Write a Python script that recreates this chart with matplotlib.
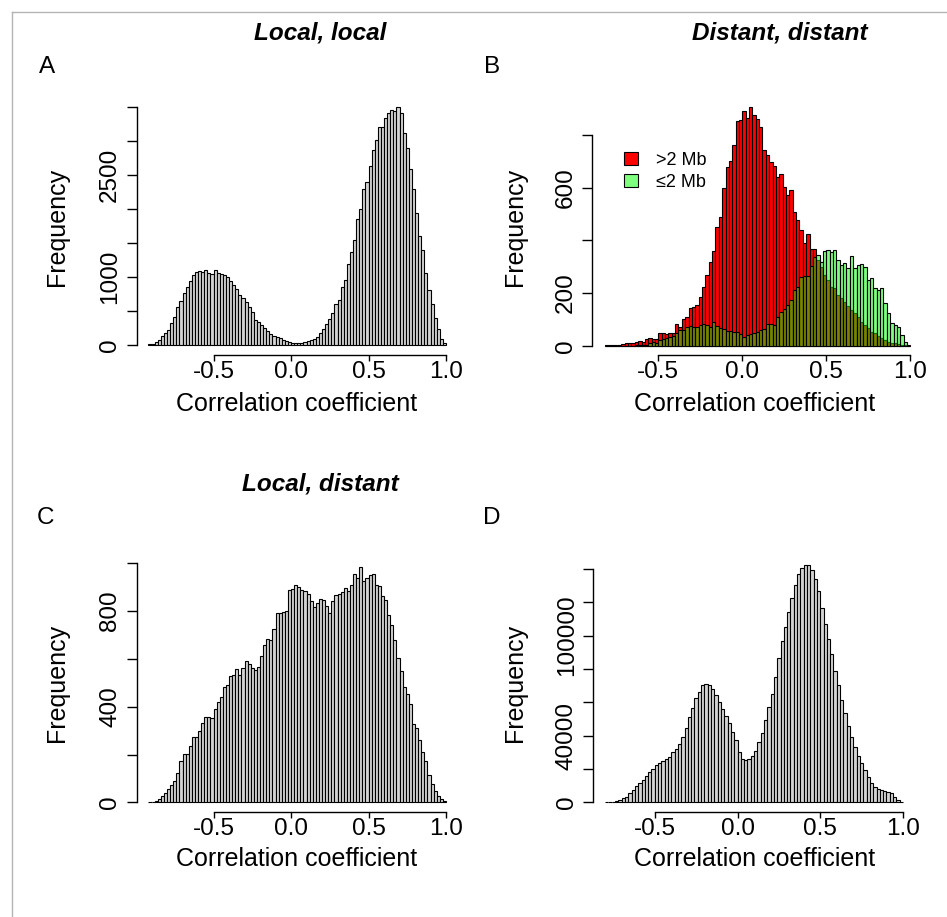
import numpy as np
import matplotlib
matplotlib.use("Agg")
import matplotlib.pyplot as plt
from matplotlib.patches import Patch
from matplotlib.lines import Line2D

plt.rcParams['font.family'] = ['Liberation Sans', 'DejaVu Sans']

# ---- data: histogram counts per 0.02-wide bin ----
# A: local, local  (bins -0.92 .. 1.00)
local_local = [10, 15, 40, 75, 130, 180, 220, 330, 415, 560,
               650, 760, 860, 945, 1025, 1075, 1090, 1080, 1100, 1055,
               1040, 1110, 1065, 1050, 1025, 995, 945, 880, 820, 735,
               685, 637, 565, 490, 368, 343, 294, 255, 206, 162,
               132, 113, 98, 74, 59, 44, 34, 30, 34, 34,
               44, 59, 74, 93, 122, 170, 230, 310, 377, 475,
               598, 660, 850, 955, 1190, 1370, 1550, 1860, 2000, 2290,
               2390, 2630, 2865, 3020, 3200, 3210, 3345, 3415, 3455, 3445,
               3500, 3415, 3125, 2890, 2590, 2300, 1945, 1600, 1395, 1055,
               810, 610, 390, 230, 83, 34]

# B: distant, distant  (bins -0.82 .. 1.00)
dist_far = [1, 1, 2, 2, 3, 5, 10, 10, 12, 16,
            18, 15, 24, 30, 27, 25, 47, 47, 45, 50,
            50, 82, 72, 101, 110, 144, 146, 154, 186, 224,
            268, 319, 361, 452, 490, 598, 677, 703, 761, 855,
            857, 893, 863, 908, 876, 860, 832, 743, 724, 698,
            684, 639, 652, 604, 572, 591, 509, 477, 439, 389,
            424, 366, 366, 325, 300, 268, 249, 224, 218, 192,
            180, 167, 151, 135, 123, 108, 91, 78, 66, 53,
            47, 37, 28, 22, 15, 11, 9, 6, 3, 1, 0]
dist_near = [0, 0, 0, 0, 0, 0, 0, 0, 0, 1,
             2, 3, 3, 9, 15, 12, 22, 24, 28, 32,
             37, 48, 60, 60, 71, 76, 71, 72, 78, 82,
             78, 72, 91, 75, 66, 62, 57, 56, 53, 51,
             43, 34, 41, 43, 49, 53, 60, 62, 81, 82,
             78, 108, 127, 138, 154, 173, 211, 224, 262, 265,
             266, 304, 338, 344, 319, 361, 363, 357, 363, 325,
             306, 315, 294, 341, 294, 306, 310, 300, 249, 258,
             218, 211, 218, 161, 123, 85, 78, 72, 41, 15, 3]

# C: local, distant  (bins -0.92 .. 1.00)
local_dist = [3, 3, 7, 15, 27, 39, 56, 71, 88, 124,
              172, 201, 201, 234, 275, 275, 297, 333, 358, 355,
              352, 389, 420, 441, 483, 492, 529, 532, 559, 533,
              562, 591, 577, 563, 555, 568, 612, 660, 683, 679,
              724, 791, 791, 798, 801, 890, 893, 911, 901, 889,
              883, 870, 843, 819, 832, 852, 846, 822, 791, 844,
              868, 873, 879, 898, 886, 908, 954, 940, 983, 926,
              939, 951, 956, 911, 905, 861, 845, 785, 742, 681,
              604, 550, 483, 455, 412, 328, 310, 259, 212, 172,
              113, 75, 46, 27, 13, 4]

# D: all pairs  (bins -0.80 .. 1.00)
all_pairs = [200, 200, 400, 800, 1400, 2400, 3400, 5400, 7400, 9800,
             11400, 13600, 15800, 18200, 20200, 22200, 23800, 25000, 25800, 27200,
             30200, 32200, 35200, 39000, 44400, 51200, 56800, 62800, 66400, 70600,
             71000, 70600, 68000, 64200, 60200, 56200, 51800, 47400, 42400, 37400,
             30000, 26200, 25600, 26000, 27800, 30800, 36000, 41800, 49400, 57200,
             65000, 75400, 86400, 96600, 105400, 114200, 122400, 130200, 136800, 140800,
             142600, 142600, 139200, 133800, 126600, 116800, 107000, 98000, 88800, 79000,
             70400, 61600, 53600, 46000, 39000, 33200, 27800, 23400, 19200, 15200,
             11400, 9000, 8000, 7200, 6800, 6200, 5400, 3400, 1200, 200]

bin_w = 0.02
start_A, start_B, start_C, start_D = -0.92, -0.82, -0.92, -0.80

xticks = [-0.5, 0.0, 0.5, 1.0]
xticklabels = ['-0.5', '0.0', '0.5', '1.0']
yticks_A = [0, 500, 1000, 1500, 2000, 2500, 3000, 3500]
ylab_A = ['0', '', '1000', '', '', '2500', '', '']
yticks_B = [0, 200, 400, 600, 800]
ylab_B = ['0', '200', '', '600', '']
yticks_C = [0, 200, 400, 600, 800, 1000]
ylab_C = ['0', '', '400', '', '800', '']
yticks_D = [0, 20000, 40000, 60000, 80000, 100000, 120000, 140000]
ylab_D = ['0', '', '40000', '', '', '100000', '', '']

W, H = 947, 917
fig = plt.figure(figsize=(W / 100, H / 100), dpi=100)
FS = 17.5


def px_axes(x0, x1, ytop, ybot):
    return fig.add_axes([x0 / W, 1 - ybot / H, (x1 - x0) / W, (ybot - ytop) / H])


def ftext(x, y, s, **kw):
    fig.text(x / W, 1 - y / H, s, ha='center', va='center', **kw)


def style(ax, xlim, ylim, yt, ylabs):
    ax.set_xlim(*xlim)
    ax.set_ylim(*ylim)
    for s in ['top', 'right']:
        ax.spines[s].set_visible(False)
    ax.spines['left'].set_bounds(yt[0], yt[-1])
    ax.spines['bottom'].set_bounds(-0.5, 1.0)
    for s in ['left', 'bottom']:
        ax.spines[s].set_linewidth(1.0)
    ax.set_xticks(xticks)
    ax.set_xticklabels(xticklabels)
    ax.set_yticks(yt)
    ax.set_yticklabels(ylabs, rotation=90, va='center')
    ax.tick_params(width=1.0, labelsize=FS)
    ax.tick_params(axis='y', length=7, pad=4)
    ax.tick_params(axis='x', length=4.5, pad=0)


def hist(ax, start, counts, **kw):
    edges = start + bin_w * np.arange(len(counts))
    ax.bar(edges, counts, width=bin_w, align='edge', edgecolor='black',
           linewidth=0.8, **kw)


# A
axA = px_axes(136.5, 458, 97.5, 354.5)
hist(axA, start_A, local_local, color='lightgray')
style(axA, (-0.997, 1.077), (-140, 3640), yticks_A, ylab_A)

# B
axB = px_axes(592.3, 922.6, 97.1, 355.2)
hist(axB, start_B, dist_far, color='#ff0000')
hist(axB, start_B, dist_near, color=(0, 1, 0, 0.5))
style(axB, (-0.893, 1.073), (-36, 944), yticks_B, ylab_B)
handles = [Patch(facecolor='#ff0000', edgecolor='black', linewidth=0.8),
           Patch(facecolor=(0, 1, 0, 0.5), edgecolor='black', linewidth=0.8)]
axB.legend(handles, ['>2 Mb', '\u22642 Mb'], loc='upper left',
           bbox_to_anchor=(615 / W, 1 - 143 / H), bbox_transform=fig.transFigure,
           frameon=False, fontsize=13, handlelength=0.75, handleheight=0.75,
           handletextpad=1.0, labelspacing=0.25, borderpad=0)

# C
axC = px_axes(136.5, 458, 553.7, 811.9)
hist(axC, start_C, local_dist, color='lightgray')
style(axC, (-0.997, 1.077), (-40, 1040), yticks_C, ylab_C)

# D
axD = px_axes(593.2, 914.9, 555.6, 811.8)
hist(axD, start_D, all_pairs, color='lightgray')
style(axD, (-0.872, 1.072), (-5700, 148000), yticks_D, ylab_D)

# text
for (x, y, s) in [(47, 67, 'A'), (492, 67, 'B'), (45, 518, 'C'), (492, 518, 'D')]:
    ftext(x, y, s, fontsize=FS)
for (x, y, s) in [(320, 33, 'Local, local'), (780, 33, 'Distant, distant'),
                  (320, 484, 'Local, distant')]:
    ftext(x, y, s, fontsize=FS, fontweight='bold', fontstyle='italic')
for (x, y) in [(57, 227), (515, 227), (57, 683), (515, 683)]:
    ftext(x, y, 'Frequency', fontsize=18, rotation=90)
for (x, y) in [(297, 404), (755, 404), (297, 859), (755, 859)]:
    ftext(x, y, 'Correlation coefficient', fontsize=18)

# thin frame at top and left
fig.add_artist(Line2D([12 / W, 1], [1 - 12 / H, 1 - 12 / H], color='#b4b4b4', lw=1))
fig.add_artist(Line2D([12 / W, 12 / W], [0, 1 - 12 / H], color='#b4b4b4', lw=1))

fig.savefig('out.png', dpi=100)
